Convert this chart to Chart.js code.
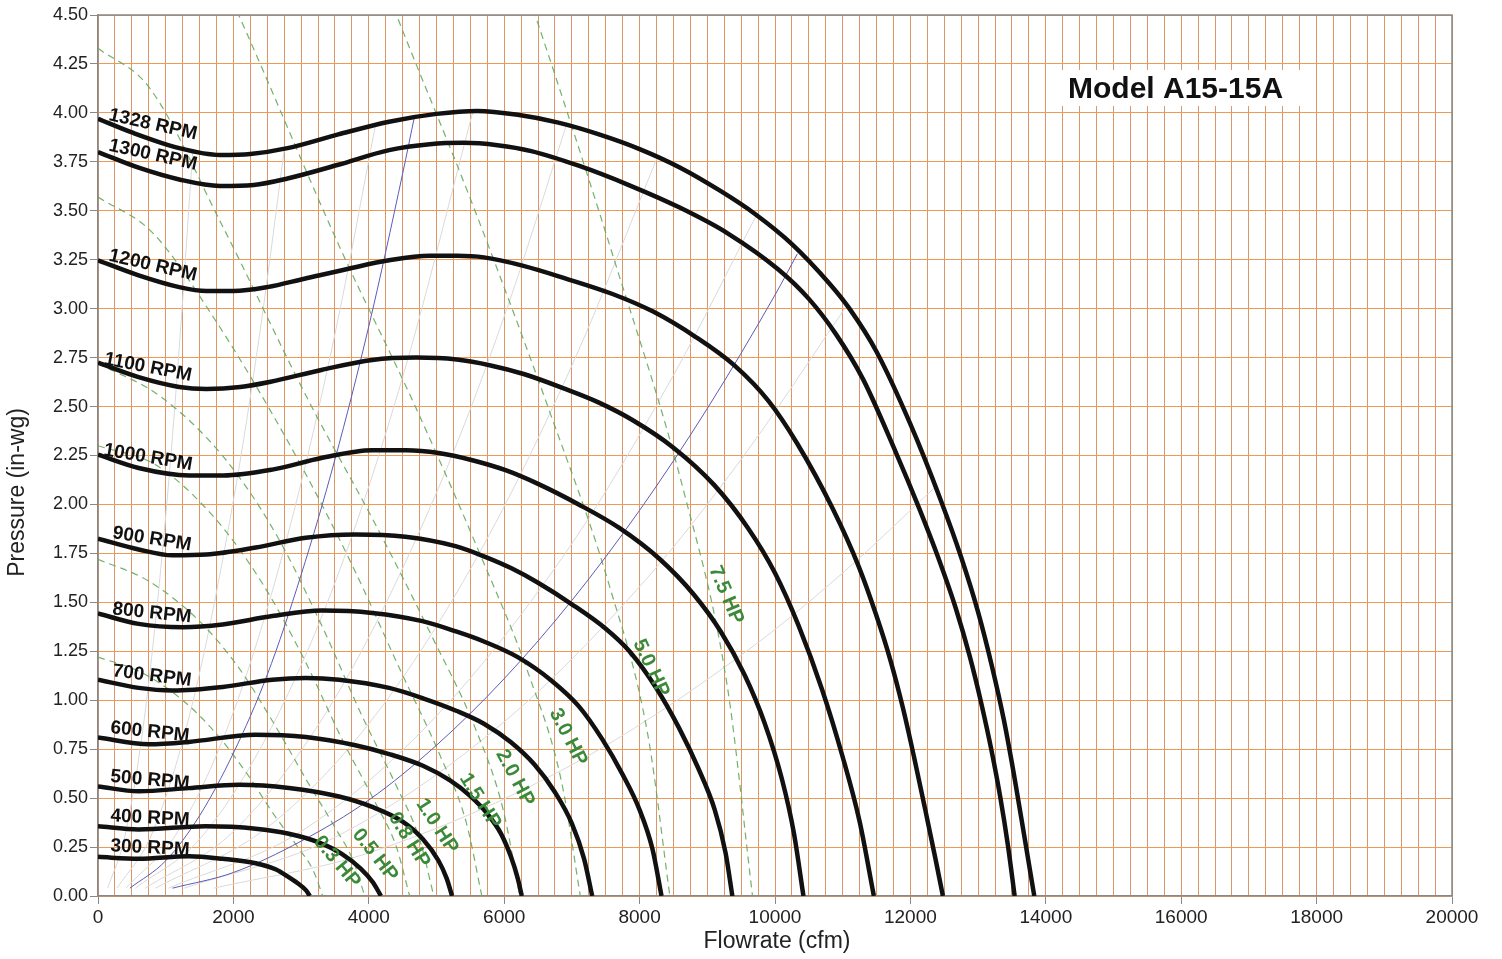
<!DOCTYPE html>
<html>
<head>
<meta charset="utf-8">
<script src="https://cdn.jsdelivr.net/npm/chart.js@4.4.1/dist/chart.umd.min.js"></script>
<style>
  html, body { margin: 0; padding: 0; background: #fff; }
  #wrap { width: 1502px; height: 959px; }
</style>
</head>
<body>
<div id="wrap"><canvas id="fanChart" width="1502" height="959"></canvas></div>
<script>
// fan curves, [flow cfm, pressure in-wg]
const rpm1328 = [[0,3.97],[500,3.90],[1200,3.82],[1800,3.785],[2250,3.79],[2800,3.82],[3550,3.89],[4300,3.955],[5000,3.995],[5600,4.01],[6200,3.99],[6800,3.95],[7400,3.89],[8000,3.815],[8600,3.72],[9200,3.60],[9700,3.485],[10250,3.33],[10800,3.13],[11100,3.00],[11500,2.78],[12000,2.41],[12450,2.02],[12750,1.73],[13000,1.45],[13200,1.18],[13380,0.90],[13540,0.60],[13690,0.29],[13830,0]];
const rpm1300 = [[0,3.80],[600,3.72],[1200,3.66],[1800,3.627],[2300,3.632],[2800,3.665],[3550,3.735],[4300,3.81],[4900,3.84],[5400,3.847],[5900,3.835],[6400,3.805],[7100,3.73],[7850,3.63],[8600,3.515],[9300,3.385],[10050,3.20],[10500,3.05],[10900,2.87],[11300,2.64],[11780,2.27],[12130,1.98],[12420,1.72],[12670,1.47],[12880,1.22],[13050,0.98],[13200,0.74],[13330,0.50],[13440,0.26],[13540,0]];
const rpm1200 = [[0,3.247],[600,3.17],[1200,3.11],[1600,3.09],[2000,3.09],[2500,3.11],[3050,3.153],[3700,3.204],[4300,3.247],[4900,3.27],[5300,3.27],[5700,3.262],[6270,3.22],[6900,3.155],[7600,3.075],[8200,2.985],[8830,2.855],[9400,2.71],[9900,2.53],[10330,2.31],[10850,1.98],[11240,1.68],[11490,1.44],[11700,1.21],[11890,0.96],[12060,0.70],[12220,0.44],[12370,0.19],[12480,0]];
const rpm1100 = [[0,2.724],[600,2.65],[1200,2.60],[1600,2.59],[2100,2.60],[2550,2.627],[3300,2.687],[4050,2.738],[4700,2.75],[5300,2.74],[5800,2.71],[6300,2.665],[6900,2.59],[7400,2.52],[7900,2.43],[8500,2.29],[9100,2.10],[9600,1.88],[10000,1.65],[10350,1.38],[10700,1.05],[11000,0.71],[11250,0.38],[11460,0]];
const rpm1000 = [[0,2.254],[600,2.186],[1350,2.148],[1850,2.148],[2575,2.178],[3300,2.237],[4050,2.277],[4550,2.277],[5030,2.263],[5530,2.226],[6020,2.175],[6500,2.105],[7100,2.0],[7700,1.88],[8300,1.72],[8800,1.54],[9200,1.35],[9550,1.13],[9850,0.88],[10100,0.60],[10280,0.32],[10420,0]];
const rpm900 = [[0,1.825],[600,1.77],[1100,1.74],[1600,1.744],[2330,1.78],[3070,1.83],[3800,1.847],[4540,1.835],[5280,1.787],[5700,1.735],[6100,1.675],[6500,1.60],[7000,1.49],[7500,1.365],[7850,1.25],[8250,1.06],[8580,0.86],[8870,0.65],[9110,0.44],[9270,0.22],[9370,0]];
const rpm800 = [[0,1.443],[600,1.39],[1250,1.373],[1840,1.387],[2575,1.43],[3310,1.458],[4050,1.446],[4790,1.404],[5300,1.35],[5700,1.30],[6200,1.22],[6700,1.10],[7100,0.97],[7450,0.80],[7750,0.62],[8000,0.44],[8190,0.24],[8324,0]];
const rpm700 = [[0,1.105],[600,1.063],[1100,1.05],[1840,1.068],[2575,1.105],[3070,1.114],[3560,1.105],[4300,1.063],[4800,1.01],[5300,0.945],[5700,0.88],[6100,0.785],[6450,0.67],[6750,0.53],[7000,0.37],[7180,0.19],[7300,0]];
const rpm600 = [[0,0.81],[750,0.775],[1340,0.787],[2330,0.824],[3070,0.812],[3800,0.77],[4300,0.725],[4800,0.665],[5200,0.59],[5500,0.51],[5750,0.42],[5950,0.32],[6100,0.20],[6200,0.09],[6260,0]];
const rpm500 = [[0,0.56],[600,0.535],[1340,0.551],[2080,0.568],[2820,0.552],[3560,0.508],[4050,0.455],[4500,0.38],[4800,0.29],[5030,0.18],[5150,0.09],[5230,0]];
const rpm400 = [[0,0.356],[600,0.34],[1590,0.356],[2330,0.344],[2820,0.318],[3250,0.275],[3600,0.215],[3880,0.14],[4060,0.07],[4180,0]];
const rpm300 = [[0,0.20],[600,0.19],[1340,0.203],[1840,0.19],[2330,0.167],[2630,0.135],[2800,0.10],[2950,0.065],[3070,0.03],[3130,0]];

// constant horsepower lines
const hp03 = [[0,1.22],[624,1.145],[1250,1.0],[1745,0.83],[2190,0.63],[2610,0.41],[2950,0.25],[3180,0.13],[3320,0]];
const hp05 = [[0,1.72],[740,1.61],[1480,1.41],[2070,1.17],[2600,0.88],[3100,0.58],[3500,0.35],[3770,0.18],[3940,0]];
const hp08 = [[0,2.30],[863,2.20],[1726,1.93],[2422,1.60],[3044,1.21],[3620,0.79],[4092,0.48],[4408,0.25],[4603,0]];
const hp10 = [[0,2.72],[930,2.55],[1860,2.24],[2610,1.86],[3280,1.40],[3900,0.92],[4410,0.56],[4750,0.29],[4960,0]];
const hp15 = [[0,3.57],[800,3.39],[1660,2.98],[2840,2.30],[3740,1.70],[4470,1.15],[5050,0.72],[5440,0.375],[5670,0]];
const hp20 = [[0,4.33],[756,4.13],[1827,3.43],[3125,2.52],[4095,1.90],[4927,1.33],[5569,0.86],[5985,0.44],[6230,0]];
const hp30 = [[865,5.41],[2091,4.49],[3576,3.31],[4687,2.50],[5638,1.75],[6374,1.12],[6849,0.58],[7124,0]];
const hp50 = [[2480,6.32],[4241,4.65],[5558,3.51],[6686,2.46],[7558,1.58],[8123,0.82],[8447,0]];
const hp75 = [[4853,6.09],[6360,4.60],[7652,3.22],[8650,2.07],[9296,1.07],[9668,0]];

// system curves (blue) and faint grey ones
const sysBlue1 = [[470,0.04],[1000,0.18],[1500,0.41],[2000,0.73],[2500,1.13],[3000,1.64],[3500,2.23],[4000,2.91],[4500,3.69],[4680,3.99]];
const sysBlue2 = [[1100,0.04],[2000,0.12],[3000,0.28],[4000,0.49],[5000,0.77],[6000,1.11],[7000,1.51],[8000,1.97],[9000,2.49],[10000,3.07],[10330,3.28]];
const sysGrey1 = [[143,0.04],[400,0.31],[700,0.95],[1000,1.94],[1200,2.80],[1400,3.81]];
const sysGrey2 = [[282,0.04],[800,0.32],[1400,0.99],[2000,2.02],[2400,2.90],[2750,3.81]];
const sysGrey3 = [[413,0.04],[1200,0.34],[2000,0.94],[2800,1.84],[3500,2.87],[4100,3.94]];
const sysGrey4 = [[553,0.04],[1500,0.29],[2500,0.82],[3500,1.60],[4500,2.65],[5540,4.01]];
const sysGrey5 = [[698,0.04],[2000,0.33],[3500,1.01],[5000,2.06],[6000,2.96],[6930,3.95]];
const sysGrey6 = [[850,0.04],[2500,0.35],[4000,0.88],[5500,1.67],[7000,2.71],[8270,3.78]];
const sysGrey7 = [[1043,0.04],[3000,0.33],[5000,0.92],[7000,1.80],[8500,2.66],[9730,3.48]];
const sysGrey8 = [[1274,0.04],[3500,0.30],[6000,0.89],[8000,1.58],[9500,2.23],[11030,3.00]];
const sysGrey9 = [[1711,0.04],[4000,0.22],[7000,0.67],[9500,1.23],[11000,1.65],[12400,2.10]];

// labels: text, flow, pressure, angle (deg)
const rpmLabels = [['1328 RPM',812,3.94,12.5],['1300 RPM',812,3.785,12.5],['1200 RPM',812,3.22,13],['1100 RPM',739,2.70,11],['1000 RPM',739,2.24,9.5],['900 RPM',798,1.823,9],['800 RPM',798,1.445,6],['700 RPM',798,1.124,7],['600 RPM',768,0.838,6],['500 RPM',768,0.592,5],['400 RPM',768,0.398,3],['300 RPM',768,0.245,3]];
const hpLabels = [['0.3 HP',3530,0.174,50],['0.5 HP',4092,0.209,52],['0.8 HP',4594,0.286,58],['1.0 HP',5007,0.357,57],['1.5 HP',5643,0.485,58],['2.0 HP',6160,0.603,62],['3.0 HP',6943,0.812,63],['5.0 HP',8168,1.164,65],['7.5 HP',9276,1.537,67]];

const FONT = "'Liberation Sans', Arial, sans-serif";

function pts(arr) {
    return arr.map(p => ({x: p[0], y: p[1]}));
}
function curve(arr, color, width, order, dash) {
    return {
        data: pts(arr),
        showLine: true,
        borderColor: color,
        borderWidth: width,
        borderDash: dash || [],
        pointRadius: 0,
        fill: false,
        cubicInterpolationMode: 'monotone',
        order: order
    };
}

const datasets = [];
[rpm1328, rpm1300, rpm1200, rpm1100, rpm1000, rpm900, rpm800, rpm700, rpm600, rpm500, rpm400, rpm300]
    .forEach(c => datasets.push(curve(c, '#111111', 4.5, 0)));
[sysBlue1, sysBlue2].forEach(c => datasets.push(curve(c, '#5b5bb8', 1, 1)));
[hp03, hp05, hp08, hp10, hp15, hp20, hp30, hp50, hp75]
    .forEach(c => datasets.push(curve(c, 'rgba(100,170,90,0.9)', 1.2, 2, [7, 5])));
[sysGrey1, sysGrey2, sysGrey3, sysGrey4, sysGrey5, sysGrey6, sysGrey7, sysGrey8, sysGrey9]
    .forEach(c => datasets.push(curve(c, '#d9d9d9', 1, 3)));

// text overlays, frame, title
const overlay = {
    id: 'overlay',
    afterDatasetsDraw(chart) {
        const c = chart.ctx, a = chart.chartArea;
        const xs = chart.scales.x, ys = chart.scales.y;
        c.save();
        // frame top / right
        c.strokeStyle = '#888';
        c.lineWidth = 1.5;
        c.beginPath();
        c.moveTo(a.left, a.top); c.lineTo(a.right, a.top); c.lineTo(a.right, a.bottom);
        c.stroke();

        c.textAlign = 'center';
        c.textBaseline = 'middle';
        c.fillStyle = '#111';
        c.font = 'bold 19px ' + FONT;
        rpmLabels.forEach(l => {
            c.save();
            c.translate(xs.getPixelForValue(l[1]), ys.getPixelForValue(l[2]));
            c.rotate(l[3] * Math.PI / 180);
            c.fillText(l[0], 0, 0);
            c.restore();
        });
        c.fillStyle = '#3a8a3a';
        c.font = 'bold 20px ' + FONT;
        hpLabels.forEach(l => {
            c.save();
            c.translate(xs.getPixelForValue(l[1]), ys.getPixelForValue(l[2]));
            c.rotate(l[3] * Math.PI / 180);
            c.fillText(l[0], 0, 0);
            c.restore();
        });

        // model title box
        c.fillStyle = '#fff';
        c.fillRect(a.right - 392, a.top + 55, 240, 36);
        c.fillStyle = '#111';
        c.font = 'bold 30px ' + FONT;
        c.textAlign = 'left';
        c.textBaseline = 'alphabetic';
        c.fillText('Model A15-15A', a.right - 384, a.top + 83);

        // axis titles
        c.font = '23px ' + FONT;
        c.fillStyle = '#222';
        c.textAlign = 'center';
        c.textBaseline = 'middle';
        c.fillText('Flowrate (cfm)', (a.left + a.right) / 2 + 2, a.bottom + 46);
        c.save();
        c.translate(18, (a.top + a.bottom) / 2 + 37);
        c.rotate(-Math.PI / 2);
        c.fillText('Pressure (in-wg)', 0, 0);
        c.restore();
        c.restore();
    }
};

const ctx = document.getElementById('fanChart').getContext('2d');
const fanChart = new Chart(ctx, {
    type: 'scatter',
    data: { datasets: datasets },
    options: {
        responsive: false,
        animation: false,
        layout: { padding: { top: 15, right: 50, left: 0, bottom: 0 } },
        plugins: {
            legend: { display: false },
            tooltip: { enabled: false }
        },
        scales: {
            x: {
                type: 'linear',
                min: 0,
                max: 20000,
                afterFit: s => { s.height = 63; },
                ticks: {
                    stepSize: 250,
                    autoSkip: false,
                    maxRotation: 0,
                    padding: 2,
                    color: '#222',
                    font: { size: 19, family: FONT },
                    callback: v => (v % 2000 === 0 ? String(v) : '')
                },
                grid: {
                    color: 'rgba(212,132,75,0.85)',
                    lineWidth: 1,
                    tickLength: 8,
                    tickColor: c => (c.tick && c.tick.value % 2000 === 0 ? '#888' : 'rgba(0,0,0,0)')
                },
                border: { color: '#888', width: 1.5 }
            },
            y: {
                min: 0,
                max: 4.5,
                afterFit: s => { s.width = 98; },
                ticks: {
                    stepSize: 0.25,
                    padding: 2,
                    color: '#222',
                    font: { size: 18, family: FONT },
                    callback: v => Number(v).toFixed(2)
                },
                grid: {
                    color: '#ec9a58',
                    lineWidth: 1,
                    tickLength: 8,
                    tickColor: '#888'
                },
                border: { color: '#888', width: 1.5 }
            }
        }
    },
    plugins: [overlay]
});
</script>
</body>
</html>
